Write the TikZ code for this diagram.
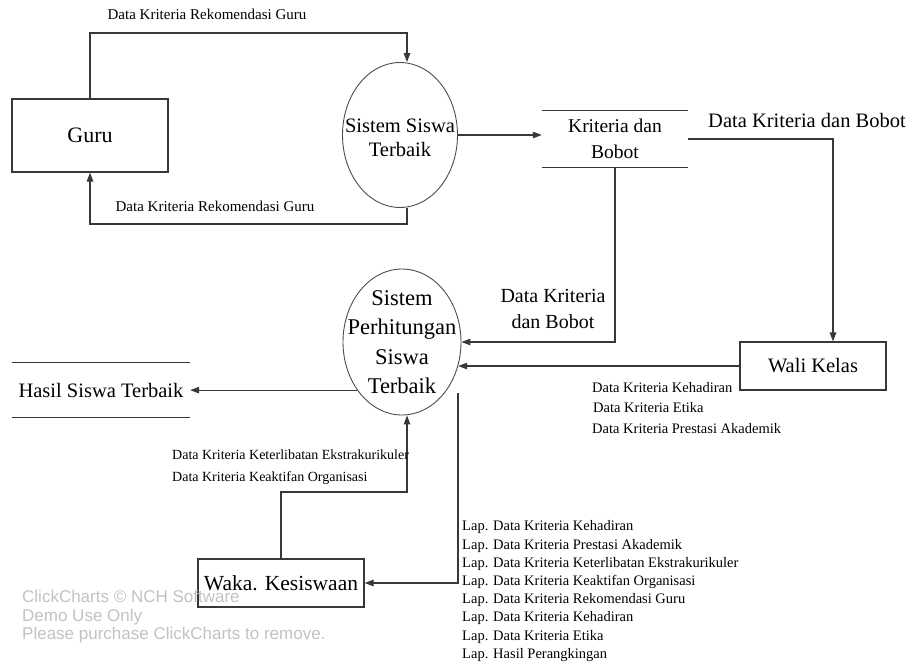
\documentclass[tikz,border=0pt]{standalone}
\usepackage{fontspec}
\setmainfont{Liberation Serif}
\newfontfamily\wmfont{Liberation Sans}
\usetikzlibrary{arrows.meta,shapes.geometric}
\begin{document}
\begin{tikzpicture}[x=1pt,y=-1pt,
  line/.style={draw=black!78, line width=1.2pt},
  arr/.style={line, -{Triangle[length=9pt,width=6.5pt]}},
  ent/.style={draw=black!78, line width=1.2pt, rectangle, inner sep=0pt, font=\fontsize{20.5}{24}\selectfont},
  proc/.style={draw=black!70, line width=0.9pt, ellipse, inner sep=0pt},
  store/.style={inner sep=0pt, align=center},
  big/.style={inner sep=0pt, align=center, font=\fontsize{20.5}{26}\selectfont},
  lbl/.style={inner sep=0pt, anchor=west, text height=1.6ex, text depth=.3ex, font=\fontsize{14.5}{17}\selectfont},
  toplbl/.style={inner sep=0pt, text height=1.6ex, text depth=.3ex, font=\fontsize{15}{18}\selectfont},
  wm/.style={inner sep=0pt, anchor=west, text=black!24, text height=1.6ex, text depth=.3ex, font=\wmfont\fontsize{17}{20}\selectfont}]
\useasboundingbox (0,0) rectangle (911,662);

% entities
\node[ent, minimum width=156pt, minimum height=73pt, font=\fontsize{22}{26}\selectfont] (guru) at (90,135.5) {Guru};
\node[ent, minimum width=146pt, minimum height=48pt] (wali) at (813,366) {Wali Kelas};
\node[ent, minimum width=166pt, minimum height=48pt, font=\fontsize{21.5}{24}\selectfont] (waka) at (281,583) {Waka. Kesiswaan};

% processes
\node[proc, minimum width=115pt, minimum height=145pt,
  label={[inner sep=0pt, yshift=-3pt, align=center, font=\fontsize{20.5}{24}\selectfont]center:Sistem Siswa\\Terbaik}] (c1) at (400,135) {};
\node[proc, minimum width=118pt, minimum height=146pt,
  label={[inner sep=0pt, align=center, font=\fontsize{22.5}{29.5}\selectfont]center:Sistem\\Perhitungan\\Siswa\\Terbaik}] (c2) at (402,342) {};

% data stores
\node[store, minimum width=146pt, minimum height=56pt, font=\fontsize{19.5}{26}\selectfont] (st1) at (615,139) {Kriteria dan\\Bobot};
\draw[line] (st1.north west) -- (st1.north east) (st1.south west) -- (st1.south east);
\node[store, minimum width=178pt, minimum height=54pt, font=\fontsize{20.5}{24}\selectfont] (hasil) at (101,390) {Hasil Siswa Terbaik};
\draw[line] (hasil.north west) -- (hasil.north east) (hasil.south west) -- (hasil.south east);

% Guru <-> Sistem Siswa Terbaik
\coordinate (t1) at (407,33);
\draw[arr] (guru.north) |- (t1) -- (c1.north -| t1);
\node[toplbl] (l1) at (207,17) {Data Kriteria Rekomendasi Guru};
\coordinate (b1) at (407,224);
\draw[arr] (c1.south -| b1) -- (b1) -| (guru.south);
\node[toplbl] (l2) at (215,209) {Data Kriteria Rekomendasi Guru};

% Sistem -> store
\draw[arr] (c1.east) -- (c1.east -| st1.west);

% store -> Wali Kelas
\draw[arr] (st1.east) -| ([xshift=20pt]wali.north);
\node[big] (l3) at (807,120) {Data Kriteria dan Bobot};

% store -> Sistem Perhitungan
\draw[arr] (st1.south) |- (c2);
\node[big, font=\fontsize{20}{26}\selectfont] (l4) at (553,309) {Data Kriteria\\dan Bobot};

% Wali Kelas -> Sistem Perhitungan
\draw[arr] (wali.west) -- (wali.west -| c2.-23);
\node[lbl] (w1) at (592,390) {Data Kriteria Kehadiran};
\node[lbl] (w2) at (593,410) {Data Kriteria Etika};
\node[lbl] (w3) at (592,431) {Data Kriteria Prestasi Akademik};

% Sistem Perhitungan -> Hasil
\draw[arr] (c2.227) -- (c2.227 -| hasil.east);

% Waka -> Sistem Perhitungan
\coordinate (k1) at (407,492);
\draw[arr] (waka.north) |- (k1) -- (k1 |- c2.south);
\node[lbl, font=\fontsize{14}{17}\selectfont] (e1) at (172,457) {Data Kriteria Keterlibatan Ekstrakurikuler};
\node[lbl, font=\fontsize{14}{17}\selectfont] (e2) at (172,479) {Data Kriteria Keaktifan Organisasi};

% Sistem Perhitungan -> Waka
\coordinate (s2) at (458,393);
\draw[arr] (s2) |- (waka.east);
\node[lbl] (p1) at (462,528) {Lap. Data Kriteria Kehadiran};
\node[lbl] (p2) at (462,546.2) {Lap. Data Kriteria Prestasi Akademik};
\node[lbl] (p3) at (462,564.4) {Lap. Data Kriteria Keterlibatan Ekstrakurikuler};
\node[lbl] (p4) at (462,582.6) {Lap. Data Kriteria Keaktifan Organisasi};
\node[lbl] (p5) at (462,600.8) {Lap. Data Kriteria Rekomendasi Guru};
\node[lbl] (p6) at (462,619) {Lap. Data Kriteria Kehadiran};
\node[lbl] (p7) at (462,637.2) {Lap. Data Kriteria Etika};
\node[lbl] (p8) at (462,655.4) {Lap. Hasil Perangkingan};

% watermark
\node[wm] (m1) at (22,600) {ClickCharts © NCH Software};
\node[wm] (m2) at (22,619) {Demo Use Only};
\node[wm] (m3) at (22,637) {Please purchase ClickCharts to remove.};
\end{tikzpicture}
\end{document}
